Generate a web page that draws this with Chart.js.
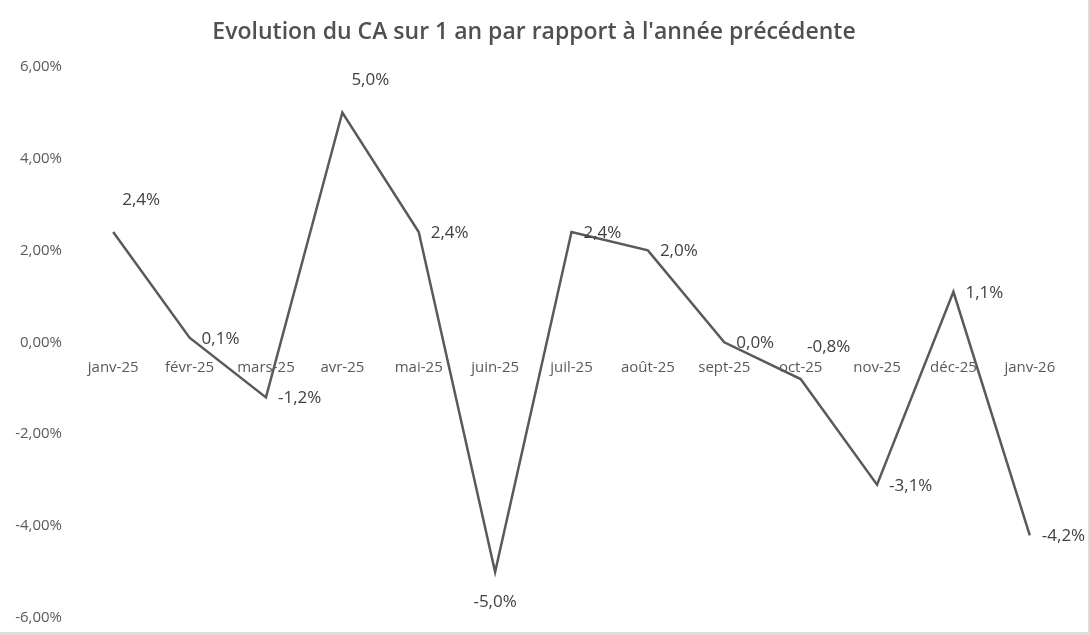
<!DOCTYPE html>
<html>
<head>
<meta charset="utf-8">
<script src="https://cdn.jsdelivr.net/npm/chart.js@4.4.0/dist/chart.umd.min.js"></script>
<style>
  html, body { margin: 0; padding: 0; background: #fff; }
  #wrap { position: relative; width: 1088px; height: 632px; border-right: 2px solid #dcdcdc; border-bottom: 3px solid #dcdcdc; }
  canvas { display: block; }
</style>
</head>
<body>
<div id="wrap"><canvas id="chart" width="1088" height="632"></canvas></div>
<script>
var months = ['janv-25', 'févr-25', 'mars-25', 'avr-25', 'mai-25', 'juin-25', 'juil-25',
              'août-25', 'sept-25', 'oct-25', 'nov-25', 'déc-25', 'janv-26'];
var evolution = [2.4, 0.1, -1.2, 5.0, 2.4, -5.0, 2.4, 2.0, 0.0, -0.8, -3.1, 1.1, -4.2];
var yTicks = [-6, -4, -2, 0, 2, 4, 6];
// where each value label sits relative to its point
var labelSide = ['above', 'right', 'right', 'above', 'right', 'below', 'right',
                 'right', 'right', 'above', 'right', 'right', 'right'];

function frPct(v, d) {
    return v.toFixed(d).replace('.', ',') + '%';
}

// draws the value next to each point, like the excel data labels
var valueLabels = {
    id: 'valueLabels',
    afterDatasetsDraw: function(chart) {
        var ctx = chart.ctx;
        var meta = chart.getDatasetMeta(0);
        ctx.save();
        ctx.font = '17px "Open Sans", sans-serif';
        ctx.fillStyle = '#404040';
        ctx.textBaseline = 'middle';
        meta.data.forEach(function(pt, i) {
            var txt = frPct(evolution[i], 1);
            var side = labelSide[i];
            if (side === 'above') {
                ctx.textAlign = 'center';
                ctx.fillText(txt, pt.x + 28, pt.y - 32);
            } else if (side === 'below') {
                ctx.textAlign = 'center';
                ctx.fillText(txt, pt.x, pt.y + 30);
            } else {
                ctx.textAlign = 'left';
                ctx.fillText(txt, pt.x + 12, pt.y + 1);
            }
        });
        ctx.restore();
    }
};

new Chart(document.getElementById('chart'), {
    type: 'line',
    data: {
        labels: months,
        datasets: [{
            data: evolution,
            borderColor: '#5a5a5a',
            borderWidth: 2.5,
            pointRadius: 0,
            tension: 0,
            fill: false
        }]
    },
    options: {
        responsive: false,
        animation: false,
        devicePixelRatio: 1,
        layout: { padding: { left: 0, right: 20, bottom: 14 } },
        plugins: {
            legend: { display: false },
            tooltip: { enabled: false },
            title: {
                display: true,
                text: 'Evolution du CA sur 1 an par rapport à l\'année précédente',
                color: '#505050',
                font: { family: '"Open Sans", sans-serif', size: 23, weight: '600' },
                padding: { top: 19, bottom: 20 }
            }
        },
        scales: {
            x: {
                position: { y: 0 },
                offset: true,
                afterFit: function(scale) {
                    scale.height = 0;
                    scale.paddingTop = 0;
                    scale.paddingBottom = 0;
                },
                grid: { display: false, drawTicks: false },
                border: { display: false },
                ticks: {
                    color: '#595959',
                    font: { family: '"Open Sans", sans-serif', size: 15 },
                    padding: 16,
                    maxRotation: 0,
                    autoSkip: false
                }
            },
            y: {
                min: -6,
                max: 6,
                afterFit: function(scale) {
                    scale.width = 75;
                    scale.paddingTop = 0;
                    scale.paddingBottom = 0;
                },
                afterBuildTicks: function(scale) {
                    scale.ticks = yTicks.map(function(v) { return { value: v }; });
                },
                grid: { display: false, drawTicks: false },
                border: { display: false },
                ticks: {
                    color: '#595959',
                    font: { family: '"Open Sans", sans-serif', size: 15 },
                    padding: 13,
                    callback: function(v) { return frPct(v, 2); }
                }
            }
        }
    },
    plugins: [valueLabels]
});
</script>
</body>
</html>
